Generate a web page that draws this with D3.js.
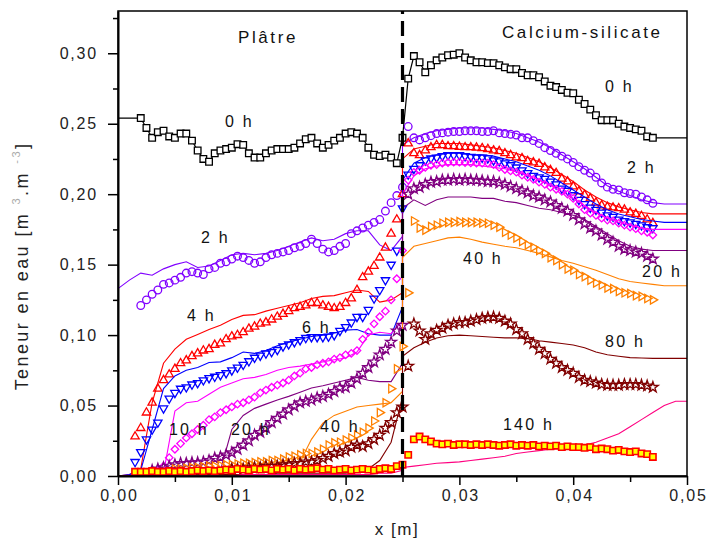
<!DOCTYPE html>
<html><head><meta charset="utf-8">
<script src="https://cdn.jsdelivr.net/npm/d3@7/dist/d3.min.js"></script>
<style>
body{margin:0;background:#fff;}
svg text{font-family:"Liberation Sans",Arial,sans-serif;}
</style></head><body>
<svg id="c" width="707" height="545"></svg>
<script>
// ---------- DATA ----------
const xMeasL = [0.0015,0.002,0.0025,0.003,0.0035,0.004,0.0045,0.005,0.0055,0.006,0.0065,0.007,0.0075,0.008,0.0085,0.009,0.0095,0.010,0.0105,0.011,0.0115,0.012,0.0125,0.013,0.0135,0.014,0.0145,0.015,0.0155,0.016,0.0165,0.017,0.0175,0.018,0.0185,0.019,0.0195,0.020,0.0205,0.021,0.0215,0.022,0.0225,0.023,0.0235,0.024,0.0245,0.025];
const xMeasR = [0.0255,0.026,0.0265,0.027,0.0275,0.028,0.0285,0.029,0.0295,0.030,0.0305,0.031,0.0315,0.032,0.0325,0.033,0.0335,0.034,0.0345,0.035,0.0355,0.036,0.0365,0.037,0.0375,0.038,0.0385,0.039,0.0395,0.040,0.0405,0.041,0.0415,0.042,0.0425,0.043,0.0435,0.044,0.0445,0.045,0.0455,0.046,0.0465,0.047];
const xSimL = [0,0.001,0.002,0.003,0.004,0.005,0.006,0.007,0.008,0.009,0.010,0.011,0.012,0.013,0.014,0.015,0.016,0.017,0.018,0.019,0.020,0.021,0.022,0.023,0.024,0.025];
const xSimR = [0.025,0.026,0.027,0.028,0.029,0.030,0.031,0.032,0.033,0.034,0.035,0.036,0.037,0.038,0.039,0.040,0.041,0.042,0.043,0.044,0.045,0.046,0.047,0.048,0.049,0.050];

// measured profiles (markers)
const h0L = [null,.254,.247,.240,.244,.245,.241,.240,.243,.243,.238,.231,.225,.223,.229,.231,.232,.233,.2355,.235,.229,.226,.226,.229,.231,.232,.232,.232,.233,.236,.239,.240,.236,.233,.235,.238,.240,.243,.244,.243,.240,.233,.228,.227,.228,.226,.222,.240];
const h0R = [.282,.298,.2936,.2865,.2915,.295,.297,.2986,.299,.300,.297,.295,.2936,.2936,.293,.293,.2915,.290,.2887,.2887,.286,.2844,.2844,.283,.280,.277,.276,.274,.272,.2716,.267,.264,.260,.256,.2525,.2525,.2525,.250,.248,.247,.246,.245,.241,.240];
const h2L = [null,.121,.125,.129,.132,.136,.137,.139,.141,.144,.145,.144,.143,.147,.148,.151,.152,.154,.156,.155,.153,.151,.152,.155,.157,.158,.159,.160,.162,.163,.165,.168,.165,.161,.159,.160,.163,.165,.172,.174,.176,.178,.180,.182,.188,.194,.199,.205];
const h2R = [.248,.240,.2385,.240,.2415,.243,.2435,.244,.2445,.2445,.245,.245,.245,.2445,.2445,.245,.2435,.243,.2425,.242,.240,.240,.238,.236,.233,.231,.229,.227,.225,.2225,.2195,.217,.215,.212,.208,.205,.2035,.203,.201,.2005,.200,.198,.196,.1935];
const h4L = [.028,.034,.045,.052,.062,.068,.072,.076,.080,.082,.085,.087,.089,.090,.093,.094,.097,.099,.100,.102,.1045,.106,.108,.109,.111,.113,.115,.117,.119,.120,.121,.1227,.1227,.121,.120,.119,.120,.1227,.126,.132,.141,.145,.149,.155,.162,.172,.182,.200];
const h4R = [.236,.229,.2277,.231,.2333,.2348,.2348,.234,.234,.2335,.2333,.2333,.233,.2326,.232,.231,.2305,.229,.2277,.226,.2255,.2234,.2225,.2215,.219,.217,.215,.211,.209,.2055,.202,.1995,.197,.194,.192,.191,.1905,.190,.189,.187,.186,.1845,.182,.1794];
const h6L = [.010,.017,.026,.033,.038,.048,.055,.059,.062,.063,.065,.066,.068,.0695,.0705,.0716,.073,.075,.077,.079,.0815,.084,.0855,.087,.088,.0895,.092,.0935,.095,.0965,.098,.0986,.0986,.0986,.099,.100,.103,.1057,.109,.113,.113,.118,.126,.132,.139,.150,.160,.190];
const h6R = [.214,.218,.2206,.224,.2255,.226,.227,.2277,.2277,.2277,.227,.2265,.226,.226,.2255,.224,.2234,.222,.2206,.219,.217,.215,.213,.212,.211,.209,.207,.204,.2025,.1993,.196,.193,.1905,.189,.187,.185,.184,.182,.181,.180,.179,.178,.1766,.176];
const h10L = [null,null,null,null,.004,.007,.013,.019,.023,.027,.030,.033,.036,.040,.042,.045,.047,.049,.051,.052,.054,.056,.059,.061,.063,.0645,.066,.068,.071,.073,.076,.077,.079,.080,.081,.083,.084,.086,.087,.089,.097,.102,.108,.113,.117,.125,.140,.160];
const h10R = [.210,.2155,.217,.219,.2205,.221,.222,.2225,.2227,.2227,.2225,.2222,.222,.222,.222,.221,.219,.2175,.2165,.2156,.2135,.212,.2105,.2085,.207,.205,.2035,.202,.200,.197,.193,.189,.1865,.185,.183,.1816,.181,.1794,.178,.1766,.1755,.174,.173,.171];
const h20L = [null,null,null,.004,.005,.006,.007,.008,.009,.009,.0095,.0095,.010,.011,.0127,.0135,.015,.0165,.019,.022,.025,.029,.031,.034,.038,.041,.044,.047,.0495,.052,.053,.054,.0555,.0565,.058,.060,.0625,.063,.066,.069,.073,.077,.081,.086,.090,.095,.103,.107];
const h20R = [.200,.204,.205,.207,.2085,.209,.210,.210,.2105,.210,.2105,.210,.210,.2095,.209,.209,.208,.207,.2055,.204,.2025,.201,.199,.198,.196,.1945,.192,.190,.188,.185,.182,.179,.176,.174,.171,.168,.166,.163,.161,.160,.159,.158,.156,.154];
const h40L = [null,null,null,null,null,null,null,.005,.005,.0055,.006,.006,.0065,.007,.007,.0075,.008,.008,.0085,.009,.009,.0095,.010,.010,.011,.011,.012,.0135,.014,.015,.016,.016,.017,.019,.022,.0235,.024,.0255,.027,.029,.031,.034,.039,.045,.052,.062,.076,.092];
const h40R = [.130,.181,.176,.1745,.177,.178,.1794,.180,.180,.1805,.180,.180,.180,.1795,.1794,.178,.1766,.173,.171,.169,.1665,.164,.1624,.160,.158,.155,.153,.150,.147,.146,.143,.1415,.139,.137,.1355,.1335,.133,.131,.130,.1295,.128,.1275,.126,.125];
const h80L = [null,null,null,null,null,null,null,null,null,null,null,null,null,null,null,null,null,.005,.005,.005,.006,.006,.006,.007,.007,.007,.008,.008,.009,.009,.010,.010,.011,.0125,.014,.016,.017,.018,.0205,.022,.021,.023,.026,.029,.034,.038,.045,.049];
const h80R = [.078,.108,.103,.097,.101,.1035,.105,.107,.108,.109,.109,.110,.111,.112,.1125,.1128,.112,.110,.108,.104,.101,.097,.094,.090,.087,.083,.080,.077,.075,.073,.070,.068,.067,.066,.065,.0645,.0645,.0645,.065,.065,.065,.0645,.064,.063];
const h140L = [.003,.003,.003,.0035,.003,.003,.0035,.003,.0035,.003,.0035,.004,.0035,.004,.0035,.004,.0045,.004,.005,.0045,.004,.005,.0045,.005,.004,.005,.0045,.005,.004,.005,.0045,.005,.0055,.0045,.005,.004,.0045,.005,.004,.0045,.005,.0045,.004,.005,.0055,.005,.007,.008];
const h140R = [.015,.026,.028,.026,.0245,.023,.0225,.023,.022,.0225,.0225,.022,.0225,.022,.0225,.022,.0215,.022,.0225,.0215,.022,.0215,.022,.021,.0215,.021,.0215,.0205,.021,.0205,.0205,.020,.0205,.019,.0195,.019,.018,.0185,.0175,.017,.0175,.016,.0155,.0135];

// simulated profiles (thin lines)
const s2L = [.133,.139,.144,.1425,.147,.150,.152,.148,.149,.153,.157,.158,.157,.158,.160,.163,.166,.169,.167,.168,.172,.174,.174,.164,.160,.170];
const s2R = [.235,.240,.243,.245,.246,.247,.247,.247,.246,.245,.243,.240,.237,.233,.228,.223,.218,.212,.206,.202,.199,.196,.194,.193,.193,.193];
const s4L = [0,.001,.005,.052,.080,.090,.097,.1005,.104,.107,.111,.114,.1145,.117,.119,.121,.123,.126,.1275,.128,.130,.132,.131,.1234,.125,.130];
const s4R = [.225,.232,.234,.236,.236,.236,.235,.234,.233,.231,.229,.226,.223,.219,.214,.209,.203,.198,.194,.191,.189,.187,.186,.186,.186,.186];
const s6L = [0,.001,.004,.033,.062,.071,.075,.077,.0805,.081,.084,.088,.087,.089,.0925,.095,.097,.099,.100,.1015,.1035,.104,.101,.100,.100,.120];
const s6R = [.210,.222,.226,.228,.229,.229,.228,.228,.227,.225,.223,.220,.217,.213,.208,.203,.198,.193,.189,.186,.184,.182,.181,.180,.180,.180];
const s10L = [0,0,.001,.002,.002,.046,.052,.053,.058,.063,.066,.069,.070,.072,.075,.077,.078,.0795,.081,.0825,.0837,.088,.100,.102,.101,.110];
const s10R = [.200,.213,.218,.220,.221,.221,.221,.220,.219,.218,.216,.213,.210,.206,.202,.197,.192,.187,.183,.180,.178,.176,.175,.175,.175,.175];
const s20L = [0,0,0,.001,.001,.001,.002,.002,.002,.004,.033,.043,.048,.051,.054,.0565,.0595,.0625,.064,.066,.068,.070,.068,.067,.067,.080];
const s20R = [.190,.196,.192,.196,.198,.198,.198,.197,.197,.195,.194,.192,.190,.189,.187,.185,.182,.177,.172,.167,.163,.161,.160,.160,.160,.160];
const s40L = [0,0,.001,.001,.001,.001,.001,.002,.002,.002,.002,.003,.003,.003,.004,.005,.010,.026,.0375,.043,.046,.049,.050,.051,.052,.060];
const s40R = [.155,.163,.165,.167,.169,.1695,.168,.166,.1645,.163,.162,.160,.158,.1555,.153,.151,.1485,.146,.143,.140,.138,.137,.136,.135,.135,.135];
const s80L = [0,0,0,0,0,.001,.001,.001,.001,.001,.001,.001,.001,.001,.002,.002,.002,.002,.002,.002,.002,.003,.005,.011,.024,.056];
const s80R = [.085,.091,.095,.098,.0995,.100,.0995,.099,.0985,.098,.098,.0975,.096,.095,.094,.093,.091,.088,.086,.085,.084,.0837,.0835,.0835,.0835,.0835];
const s140L = [0,0,0,0,0,0,0,0,0,0,0,.001,.001,.001,.001,.001,.001,.001,.001,.001,.001,.001,.001,.002,.002,.004];
const s140R = [.006,.007,.008,.009,.0095,.010,.011,.012,.013,.014,.016,.017,.018,.019,.020,.021,.022,.024,.027,.030,.035,.040,.045,.050,.053,.053];

const yTicks = [0,0.05,0.10,0.15,0.20,0.25,0.30];
const yTickLabels = ["0,00","0,05","0,10","0,15","0,20","0,25","0,30"];
const yMinor = [0.025,0.075,0.125,0.175,0.225,0.275,0.325];
const xTicks = [0,0.01,0.02,0.03,0.04,0.05];
const xTickLabels = ["0,00","0,01","0,02","0,03","0,04","0,05"];
const xMinor = [0.005,0.015,0.025,0.035,0.045];
const interfaceX = 0.025;

const annotations = [
  {t:"Plâtre", x:0.01054, y:0.3073, big:true},
  {t:"Calcium-silicate", x:0.03374, y:0.3109, big:true},
  {t:"0 h", x:0.0094, y:0.2477}, {t:"0 h", x:0.0428, y:0.2725},
  {t:"2 h", x:0.0073, y:0.1654}, {t:"2 h", x:0.04473, y:0.215},
  {t:"4 h", x:0.00606, y:0.110}, {t:"6 h", x:0.01617, y:0.1015},
  {t:"10 h", x:0.00448, y:0.0291}, {t:"20 h", x:0.00993, y:0.0291},
  {t:"40 h", x:0.01775, y:0.0312}, {t:"40 h", x:0.03032, y:0.1505},
  {t:"20 h", x:0.04605, y:0.1412}, {t:"80 h", x:0.0428, y:0.0916},
  {t:"140 h", x:0.03383, y:0.0326}
];

// ---------- CHART ----------
const svg = d3.select("#c");
const x = d3.scaleLinear().domain([0,0.05]).range([118,687]);
const y = d3.scaleLinear().domain([0,0.33]).range([476,11]);

const series = [
  {color:"#000000", shape:"square", L:h0L, R:h0R, connect:true},
  {color:"#8000ff", shape:"circle", L:h2L, R:h2R, sL:s2L, sR:s2R},
  {color:"#ff0000", shape:"up", L:h4L, R:h4R, sL:s4L, sR:s4R},
  {color:"#0000ff", shape:"down", L:h6L, R:h6R, sL:s6L, sR:s6R},
  {color:"#ff00ff", shape:"diamond", L:h10L, R:h10R, sL:s10L, sR:s10R},
  {color:"#800080", shape:"star", L:h20L, R:h20R, sL:s20L, sR:s20R},
  {color:"#ff8000", shape:"right", L:h40L, R:h40R, sL:s40L, sR:s40R},
  {color:"#800000", shape:"star", L:h80L, R:h80R, sL:s80L, sR:s80R},
  {color:"#ff0000", fill:"#ffff00", line:"#ff0080", shape:"fsq", L:h140L, R:h140R, sL:s140L, sR:s140R}
];

const shapes = {
  square: {p:d3.symbol(d3.symbolSquare,44)(), r:0},
  circle: {p:d3.symbol(d3.symbolCircle,46)(), r:0},
  up: {p:d3.symbol(d3.symbolTriangle,30)(), r:0},
  down: {p:d3.symbol(d3.symbolTriangle,30)(), r:180},
  diamond: {p:d3.symbol(d3.symbolSquare,28)(), r:45},
  star: {p:d3.symbol(d3.symbolStar,36)(), r:0},
  right: {p:d3.symbol(d3.symbolTriangle,30)(), r:90},
  fsq: {p:d3.symbol(d3.symbolSquare,40)(), r:0}
};

const line = d3.line().defined(d => d[1] != null).x(d => x(d[0])).y(d => y(d[1]));
const gPlot = svg.append("g");

series.forEach(s => {
  const meas = xMeasL.map((v,i)=>[v,s.L[i]]).concat(xMeasR.map((v,i)=>[v,s.R[i]]));
  if (s.sL) {
    const sim = xSimL.map((v,i)=>[v,s.sL[i]]).concat(xSimR.map((v,i)=>[v,s.sR[i]]));
    gPlot.append("path").attr("d", line(sim)).attr("fill","none")
      .attr("stroke", s.line || s.color).attr("stroke-width",1.1);
  }
  if (s.connect) {
    const pts = meas.filter(d=>d[1]!=null);
    const ext = [[x.domain()[0], pts[0][1]]].concat(pts, [[x.domain()[1], pts[pts.length-1][1]]]);
    gPlot.append("path").attr("d", line(ext)).attr("fill","none").attr("stroke", s.color).attr("stroke-width",1.2);
  }
  const sh = shapes[s.shape];
  gPlot.append("g").selectAll("path").data(meas.filter(d=>d[1]!=null)).join("path")
    .attr("d", sh.p)
    .attr("transform", d => `translate(${x(d[0])},${y(d[1])}) rotate(${sh.r})`)
    .attr("fill", s.fill || (s.connect ? "#fff" : "none"))
    .attr("stroke", s.color).attr("stroke-width", s.fill ? 1.6 : 1.3);
});

// interface dashed line
svg.append("line").attr("x1",x(interfaceX)).attr("x2",x(interfaceX))
  .attr("y1",y(0)).attr("y2",y(0.33)).attr("stroke","#000").attr("stroke-width",3.2)
  .attr("stroke-dasharray","15,7");

// frame
svg.append("rect").attr("x",x(0)).attr("y",y(0.33)).attr("width",x(0.05)-x(0)).attr("height",y(0)-y(0.33))
  .attr("fill","none").attr("stroke","#000").attr("stroke-width",1.5);

// axes
const tickFont = g => g.selectAll("text").attr("font-family","'Liberation Sans',Arial,sans-serif")
  .attr("font-size",16).attr("fill","#222").style("letter-spacing","1.8px");
const ay = svg.append("g").attr("transform",`translate(${x(0)},0)`)
  .call(d3.axisLeft(y).tickValues(yTicks).tickFormat((d,i)=>yTickLabels[i]).tickSize(10).tickSizeOuter(0).tickPadding(10));
ay.call(tickFont); ay.select(".domain").attr("stroke-width",2);
ay.selectAll(".tick line").attr("stroke-width",1.5);
svg.append("g").attr("transform",`translate(${x(0)},0)`)
  .call(d3.axisLeft(y).tickValues(yMinor).tickFormat("").tickSize(5).tickSizeOuter(0))
  .call(g=>g.select(".domain").remove()).selectAll("line").attr("stroke-width",1.5);

const ax = svg.append("g").attr("transform",`translate(0,${y(0)})`)
  .call(d3.axisBottom(x).tickValues(xTicks).tickFormat((d,i)=>xTickLabels[i]).tickSize(9).tickSizeOuter(0).tickPadding(5));
ax.call(tickFont); ax.select(".domain").attr("stroke-width",2);
ax.selectAll(".tick line").attr("stroke-width",1.5);
ax.selectAll(".tick text").attr("dx","1px");
svg.append("g").attr("transform",`translate(0,${y(0)})`)
  .call(d3.axisBottom(x).tickValues(xMinor).tickFormat("").tickSize(6).tickSizeOuter(0))
  .call(g=>g.select(".domain").remove()).selectAll("line").attr("stroke-width",1.5);

// axis titles
svg.append("text").attr("x",397).attr("y",535).attr("text-anchor","middle")
  .attr("font-size",17).attr("fill","#222").style("letter-spacing","1.5px").text("x [m]");
const yt = svg.append("text").attr("transform","translate(28,266) rotate(-90)").attr("text-anchor","middle")
  .attr("font-size",18).attr("fill","#222").style("letter-spacing","2.4px");
yt.append("tspan").text("Teneur en eau [m ");
yt.append("tspan").attr("font-size",11).attr("fill","#aaa").attr("dy",-8).text("3");
yt.append("tspan").attr("dy",8).text(".m ");
yt.append("tspan").attr("font-size",11).attr("fill","#aaa").attr("dy",-8).text("-3");
yt.append("tspan").attr("dy",8).text("]");

// annotations
svg.append("g").selectAll("text").data(annotations).join("text")
  .attr("x",d=>x(d.x)).attr("y",d=>y(d.y))
  .attr("font-size",d=>d.big?17:16).attr("fill","#111")
  .style("letter-spacing",d=>d.big?"2.6px":"2.2px")
  .text(d=>d.t);
</script>
</body></html>
